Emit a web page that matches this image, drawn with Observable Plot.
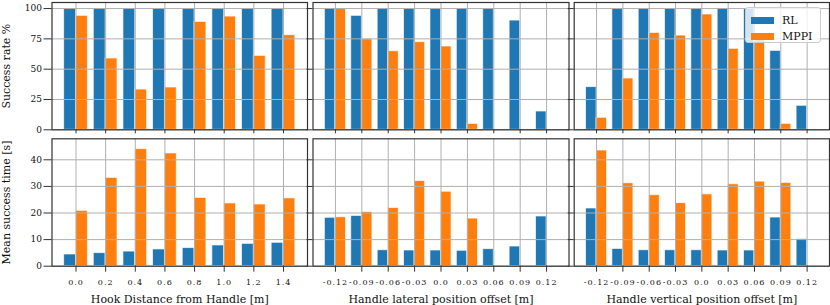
<!DOCTYPE html>
<html>
<head>
<meta charset="utf-8">
<script src="https://cdn.jsdelivr.net/npm/d3@7"></script>
<script src="https://cdn.jsdelivr.net/npm/@observablehq/plot@0.6"></script>
<style>
html, body { margin: 0; padding: 0; background: #fff; }
#chart { position: relative; width: 830px; height: 305px; overflow: hidden; font-family: "DejaVu Serif", serif; color: #111; }
#chart svg { position: absolute; left: 0; top: 0; font-family: "DejaVu Serif", serif !important; }
#chart svg text, #chart svg g { font-family: "DejaVu Serif", serif !important; }
#chart g[aria-label="x-axis tick label"] { font-size: 8px; letter-spacing: 1px; }
#chart g[aria-label="y-axis tick label"] { font-size: 9px; }
#chart g[aria-label="x-axis label"], #chart g[aria-label="y-axis label"] { font-size: 11px; }
.legend { position: absolute; left: 745px; top: 7px; width: 76px; height: 36px; box-sizing: border-box;
  background: rgba(255,255,255,0.8); border: 1px solid #cccccc; border-radius: 3px;
  font-family: "DejaVu Serif", serif; font-size: 11px; color: #111; padding: 4px 0 0 5px; }
.legend .row { display: flex; align-items: center; height: 16.5px; }
.legend .sw { width: 23px; height: 7px; margin-right: 8px; }
</style>
</head>
<body>
<div id="chart"></div>
<script>
// ---- data ----
const series = ["RL", "MPPI"];
const seriesColors = ["#1f77b4", "#ff7f0e"];

const hookLabels = ["0.0", "0.2", "0.4", "0.6", "0.8", "1.0", "1.2", "1.4"];
const offsetLabels = ["-0.12", "-0.09", "-0.06", "-0.03", "0.0", "0.03", "0.06", "0.09", "0.12"];

const rateTicks = [0, 25, 50, 75, 100];
const timeTicks = [0, 10, 20, 30, 40];

// Success rate %
const hookRateRL   = [100, 100, 100, 100, 100, 100, 100, 100];
const hookRateMPPI = [94.0, 58.8, 33.2, 34.9, 89.0, 93.4, 61.0, 78.0];
const latRateRL    = [100, 94.0, 100, 100, 100, 100, 100, 90.1, 15.1];
const latRateMPPI  = [100, 74.7, 64.8, 72.3, 68.7, 4.9, 0, 0, 0];
const vertRateRL   = [35.2, 100, 100, 100, 100, 100, 100, 65.1, 19.8];
const vertRateMPPI = [9.9, 42.3, 79.9, 77.7, 95.1, 66.8, 75.0, 4.9, 0];

// Mean success time [s]
const hookTimeRL   = [4.4, 4.9, 5.5, 6.3, 6.8, 7.8, 8.4, 8.8];
const hookTimeMPPI = [20.8, 33.2, 44.0, 42.4, 25.7, 23.6, 23.2, 25.5];
const latTimeRL    = [18.2, 18.9, 6.0, 5.9, 5.9, 5.8, 6.4, 7.4, 18.7];
const latTimeMPPI  = [18.4, 20.4, 21.9, 32.0, 28.0, 17.9, 0, 0, 0];
const vertTimeRL   = [21.7, 6.5, 6.0, 6.0, 6.0, 5.9, 5.9, 18.3, 10.2];
const vertTimeMPPI = [43.5, 31.2, 26.7, 23.7, 27.0, 30.8, 31.8, 31.3, 0];

// ---- layout ----
const W = 830, H = 305;
const cols = [
  {l: 51.5, r: 307, labels: hookLabels, pad: 0.81, xlabel: "Hook Distance from Handle [m]"},
  {l: 312.5, r: 568.5, labels: offsetLabels, pad: 0.85, xlabel: "Handle lateral position offset [m]"},
  {l: 573.7, r: 829, labels: offsetLabels, pad: 0.85, xlabel: "Handle vertical position offset [m]"}
];
const rows = [
  {t: 2, b: 129.3, ymax: 105, ticks: rateTicks, ylabel: "Success rate %",
   data: [[hookRateRL, hookRateMPPI], [latRateRL, latRateMPPI], [vertRateRL, vertRateMPPI]]},
  {t: 138.3, b: 265.7, ymax: 47.9, ticks: timeTicks, ylabel: "Mean success time [s]",
   data: [[hookTimeRL, hookTimeMPPI], [latTimeRL, latTimeMPPI], [vertTimeRL, vertTimeMPPI]]}
];
const barW = 0.4;

function makeRows(rl, mppi) {
  const out = [];
  rl.forEach((v, i) => out.push({i, series: "RL", value: v, x1: i - barW, x2: i}));
  mppi.forEach((v, i) => out.push({i, series: "MPPI", value: v, x1: i, x2: i + barW}));
  return out.filter(d => d.value > 0);
}

const chart = document.getElementById("chart");
const FONT = "DejaVu Serif";

rows.forEach((row, ri) => {
  cols.forEach((col, ci) => {
    const n = col.labels.length;
    const idx = d3.range(n);
    const bars = makeRows(row.data[ci][0], row.data[ci][1]);
    const isBottom = ri === rows.length - 1;
    const marks = [
      Plot.rect(bars, {x1: "x1", x2: "x2", y1: 0, y2: "value", fill: "series",
        stroke: "white", strokeWidth: 0.9, strokeOpacity: 0.75}),
      Plot.gridX({ticks: idx, stroke: "#b0b0b0", strokeOpacity: 1, strokeWidth: 1}),
      Plot.gridY({ticks: row.ticks, stroke: "#b0b0b0", strokeOpacity: 1, strokeWidth: 1}),
      Plot.axisY({ticks: row.ticks, tickSize: ci === 0 ? 8 : 6, tickPadding: 2, stroke: "#333",
        fontFamily: FONT,
        tickFormat: ci === 0 ? (d => String(d)) : (() => ""),
        label: ci === 0 ? row.ylabel : null, labelAnchor: "center", labelOffset: 50, labelArrow: "none"}),
      Plot.axisX({ticks: idx, tickSize: isBottom ? 6 : 4, tickPadding: 7.5, stroke: "#333",
        fontFamily: FONT,
        tickFormat: isBottom ? (i => col.labels[i]) : (() => ""),
        label: isBottom ? col.xlabel : null, labelAnchor: "center", labelOffset: 37, labelArrow: "none"}),
      Plot.frame({stroke: "#333", strokeWidth: 1.2})
    ];
    const svg = Plot.plot({
      width: W, height: H,
      marginLeft: col.l, marginRight: W - col.r,
      marginTop: row.t, marginBottom: H - row.b,
      style: {background: "transparent", fontFamily: FONT, overflow: "visible", color: "#111"},
      x: {type: "linear", domain: [-col.pad, n - 1 + col.pad]},
      y: {domain: [0, row.ymax]},
      color: {domain: series, range: seriesColors},
      marks
    });
    chart.appendChild(svg);
  });
});

// legend
const lg = document.createElement("div");
lg.className = "legend";
series.forEach((s, k) => {
  const r = document.createElement("div");
  r.className = "row";
  const sw = document.createElement("span");
  sw.className = "sw";
  sw.style.background = seriesColors[k];
  const t = document.createElement("span");
  t.textContent = s;
  r.appendChild(sw); r.appendChild(t);
  lg.appendChild(r);
});
chart.appendChild(lg);
</script>
</body>
</html>
